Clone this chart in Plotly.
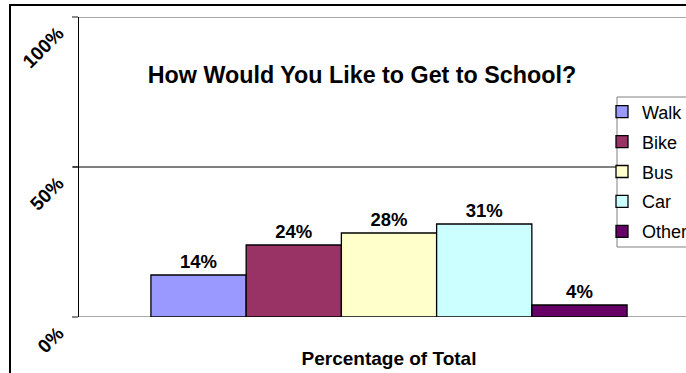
import plotly.graph_objects as go

# Survey results: preferred way of getting to school
category = ["Percentage of Total"]
modes = ["Walk", "Bike", "Bus", "Car", "Other"]
shares = [14, 24, 28, 31, 4]
colors = ["#9999FF", "#993366", "#FFFFCC", "#CCFFFF", "#660066"]

y_ticks = [0, 50, 100]
y_tick_text = ["0%", "50%", "100%"]

FONT = "Liberation Sans, Arial, sans-serif"
GREY = "#8c8c8c"

fig = go.Figure()
for name, val, col in zip(modes, shares, colors):
    fig.add_trace(go.Bar(
        name=name,
        legendgroup=name,
        x=category,
        y=[val],
        marker=dict(color=col, line=dict(color="black", width=1.3)),
        texttemplate="%{y}%",
        textposition="outside",
        textfont=dict(family=FONT, size=18.5, color="black", weight="bold"),
        cliponaxis=False,
    ))

W, H = 686, 373
left, right, top, bottom = 79, 0, 17, 56
PW, PH = W - left - right, H - top - bottom

fig.update_layout(
    width=W, height=H,
    margin=dict(l=left, r=right, t=top, b=bottom, autoexpand=False),
    paper_bgcolor="white",
    plot_bgcolor="white",
    barmode="group",
    bargap=0.232,
    bargroupgap=0,
    font=dict(family=FONT, color="black"),
    title=dict(
        text="<b>How Would You Like to Get to School?</b>",
        font=dict(family=FONT, size=23.3, color="black"),
        x=362 / W, xanchor="center",
        y=1 - 75 / H, yanchor="middle",
    ),
    legend=dict(
        x=(602 - left) / PW, xanchor="left",
        y=1 - (93.5 - top) / PH, yanchor="top",
        bgcolor="rgba(0,0,0,0)",
        borderwidth=0,
        font=dict(family=FONT, size=18, color="black"),
        tracegroupgap=3.5,
    ),
    xaxis=dict(
        range=[-0.5, -0.5 + PW / 620],
        showline=False, showgrid=False, ticks="",
        tickfont=dict(family=FONT, size=19, color="black", weight="bold"),
        ticklabelstandoff=28,
        fixedrange=True,
    ),
    yaxis=dict(
        range=[0, 100],
        tickvals=y_ticks, ticktext=y_tick_text,
        tickangle=-45,
        tickfont=dict(family=FONT, size=19, color="black", weight="bold"),
        ticks="outside", ticklen=6, tickcolor=GREY, tickwidth=1.5,
        ticklabelstandoff=10, ticklabelshift=14,
        showline=True, linecolor="black", linewidth=1,
        showgrid=False, zeroline=False,
        fixedrange=True,
    ),
    showlegend=True,
)

# grey plot edges at 0% and 100%
for yv in (0, 100):
    fig.add_shape(type="line", xref="paper", yref="y", x0=-6 / PW, x1=1,
                  y0=yv, y1=yv, line=dict(color=GREY, width=1.5), layer="below")
# black gridline (with its tick) at 50%
fig.add_shape(type="line", xref="paper", yref="y", x0=-6 / PW, x1=1, y0=50, y1=50,
              line=dict(color="black", width=1), layer="above")

# legend box
fig.add_shape(type="rect", xref="paper", yref="paper",
              x0=(617 - left) / PW, x1=1.1,
              y0=1 - (247 - top) / PH, y1=1 - (97 - top) / PH,
              fillcolor="white", line=dict(color="#808080", width=1), layer="above")

# outer chart frame
fig.add_shape(type="rect", xref="paper", yref="paper",
              x0=(10 - left) / PW, x1=1.2,
              y0=-0.5, y1=1 + (top - 5) / PH,
              line=dict(color="black", width=2), layer="above")

fig.write_html("out.html", config={"displayModeBar": False})
